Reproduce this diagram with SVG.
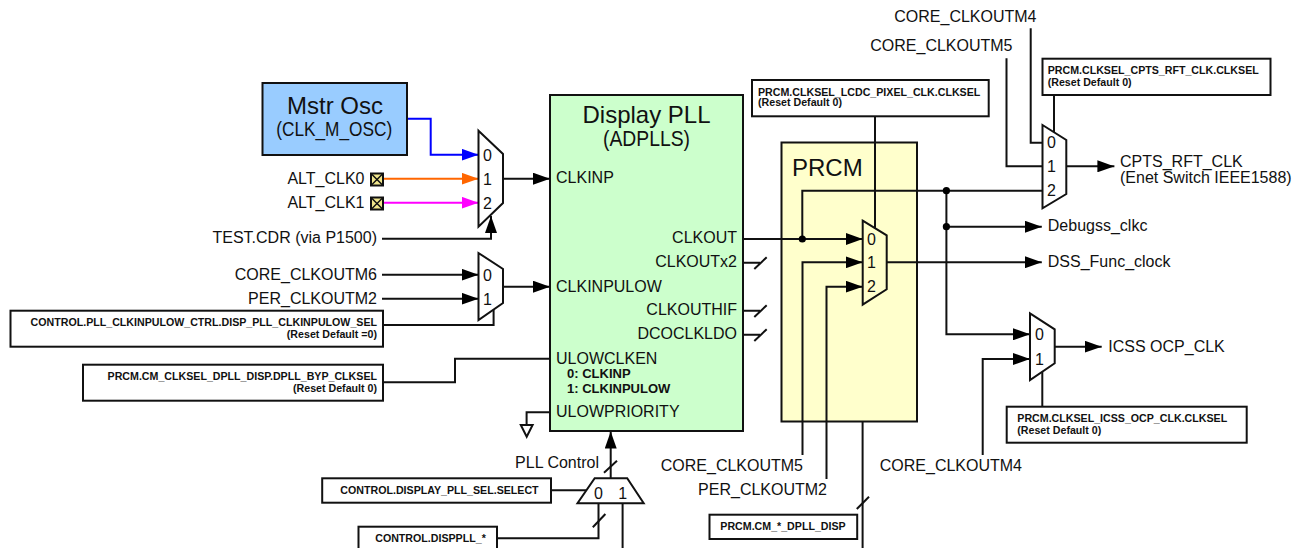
<svg xmlns="http://www.w3.org/2000/svg" width="1298" height="548" viewBox="0 0 1298 548">
<style>
text{font-family:"Liberation Sans",Arial,sans-serif;font-size:16px;fill:#111}
.r{text-anchor:end}
.m{text-anchor:middle}
.b{font-weight:bold;font-size:10.65px}
.b13{font-weight:bold;font-size:13px}
.box{fill:#fff;stroke:#111;stroke-width:2}
.mux{fill:#fff;stroke:#111;stroke-width:2;stroke-linejoin:miter}
.w{fill:none;stroke:#111;stroke-width:2}
.a{marker-end:url(#ar)}
</style>
<defs>
<marker id="ar" markerUnits="userSpaceOnUse" markerWidth="17" markerHeight="12" refX="17" refY="6" orient="auto"><path d="M0 0L17 6L0 12z" fill="#000"/></marker>
<marker id="ab" markerUnits="userSpaceOnUse" markerWidth="17" markerHeight="12" refX="17" refY="6" orient="auto"><path d="M0 0L17 6L0 12z" fill="#0000ff"/></marker>
<marker id="ao" markerUnits="userSpaceOnUse" markerWidth="17" markerHeight="12" refX="17" refY="6" orient="auto"><path d="M0 0L17 6L0 12z" fill="#ff6600"/></marker>
<marker id="am" markerUnits="userSpaceOnUse" markerWidth="17" markerHeight="12" refX="17" refY="6" orient="auto"><path d="M0 0L17 6L0 12z" fill="#ff00ff"/></marker>
</defs>

<g id="prcm"><rect x="781.5" y="142.5" width="135.5" height="279" fill="#ffffcc" stroke="#111" stroke-width="2"/><text x="792" y="176" style="font-size:24px">PRCM</text></g>

<g id="display-pll">
<rect x="550" y="95" width="193" height="336" fill="#ccffcc" stroke="#111" stroke-width="2"/>
<text x="646.5" y="122.5" class="m" style="font-size:24px">Display PLL</text>
<text x="646.5" y="146" class="m" style="font-size:21.5px" textLength="87" lengthAdjust="spacingAndGlyphs">(ADPLLS)</text>
<text x="556" y="183">CLKINP</text>
<text x="556" y="291.5">CLKINPULOW</text>
<text x="556" y="363.5">ULOWCLKEN</text>
<text x="567" y="378" class="b13">0: CLKINP</text>
<text x="567" y="392.5" class="b13">1: CLKINPULOW</text>
<text x="556" y="417">ULOWPRIORITY</text>
<text x="737" y="243" class="r">CLKOUT</text>
<text x="737" y="267" class="r">CLKOUTx2</text>
<text x="737" y="315" class="r">CLKOUTHIF</text>
<text x="737" y="339" class="r">DCOCLKLDO</text>
</g>

<g id="connectors">
<path d="M407 118.7H430.7V154.7H478.5" fill="none" stroke="#0000ff" stroke-width="2" marker-end="url(#ab)"/>
<path d="M383 178.7H478.5" fill="none" stroke="#ff6600" stroke-width="2" marker-end="url(#ao)"/>
<path d="M383 202.7H478.5" fill="none" stroke="#ff00ff" stroke-width="2" marker-end="url(#am)"/>
<path class="w a" d="M382 238.7H491V216"/>
<path class="w a" d="M382 274.7H478.5"/>
<path class="w a" d="M382 298.7H478.5"/>
<path class="w" d="M383 325H493.6V308"/>
<path class="w a" d="M503 178.7H550"/>
<path class="w a" d="M503 286.7H550"/>
<path class="w" d="M383 382.3H455V358.7H550"/>
<path class="w" d="M550 412.3H526.6V425"/>
<path d="M520.8 425H532.6L526.7 436.7z" fill="#fff" stroke="#111" stroke-width="2"/>
<path class="w a" d="M610.7 478.3V431.5"/>
<path class="w" d="M604 472.7L617 460.7"/>
<path class="w" d="M551 490.3H587"/>
<path class="w" d="M598.5 503.3V538.3H497"/>
<path class="w" d="M592.8 527.3L605.4 514"/>
<path class="w" d="M622.6 503.3V548"/>
<path class="w" d="M743 262.7H760M754.3 269L766.7 257.3"/>
<path class="w" d="M743 310.7H760M754.3 317L766.7 305.3"/>
<path class="w" d="M743 334.7H760M754.3 341L766.7 329.3"/>
<path class="w a" d="M743 239H862.7"/>
<path class="w" d="M802.3 239V190.7H1042.5"/>
<path class="w a" d="M802.5 455V262.3H862.7"/>
<path class="w a" d="M826.5 479V286.7H862.7"/>
<path class="w" d="M875 116.3V228"/>
<path class="w a" d="M886.7 262.3H1041.8"/>
<path class="w a" d="M946.4 226.7H1041.8"/>
<path class="w a" d="M946.4 190.7V334.3H1030"/>
<path class="w a" d="M982.7 455V359H1030"/>
<path class="w a" d="M1054.7 346.7H1101.7"/>
<path class="w" d="M1042.3 372V406.7"/>
<path class="w" d="M1030.7 28.3V142.7H1042.5"/>
<path class="w" d="M1006.5 58.3V166.3H1042.5"/>
<path class="w" d="M1054 95V132"/>
<path class="w a" d="M1066.3 166.3H1114.4"/>
<path class="w" d="M862.6 421.7V548"/>
<path class="w" d="M856.8 509L869 496.7"/>
<circle cx="802.3" cy="239" r="3.6" fill="#000"/>
<circle cx="946.4" cy="190.7" r="3.6" fill="#000"/>
<circle cx="946.4" cy="226.7" r="3.6" fill="#000"/>
</g>

<g id="mstr-osc"><rect x="262.5" y="83" width="144.5" height="72" fill="#99ccff" stroke="#111" stroke-width="2"/><text x="335" y="114" class="m" style="font-size:24px">Mstr Osc</text><text x="334.2" y="136" class="m" style="font-size:20.5px" textLength="116" lengthAdjust="spacingAndGlyphs">(CLK_M_OSC)</text></g>

<g id="alt-clk0"><text x="364.5" y="183.5" class="r">ALT_CLK0</text><rect x="371" y="173.5" width="12" height="12" fill="#f0e68c" stroke="#111" stroke-width="2"/><path d="M371 173.5L383 185.5M383 173.5L371 185.5" stroke="#111" stroke-width="1.5"/></g>
<g id="alt-clk1"><text x="364.5" y="207.5" class="r">ALT_CLK1</text><rect x="371" y="197.5" width="12" height="12" fill="#f0e68c" stroke="#111" stroke-width="2"/><path d="M371 197.5L383 209.5M383 197.5L371 209.5" stroke="#111" stroke-width="1.5"/></g>
<g id="test-cdr"><text x="377" y="243" class="r">TEST.CDR (via P1500)</text></g>
<g id="core-clkoutm6"><text x="377" y="279.5" class="r">CORE_CLKOUTM6</text></g>
<g id="per-clkoutm2"><text x="377" y="303.5" class="r">PER_CLKOUTM2</text></g>

<g id="mux-clkinp"><path class="mux" d="M478.5 130.7L503 154V203L478.5 226.7z"/><text x="483" y="160.5">0</text><text x="483" y="184.5">1</text><text x="483" y="208.5">2</text></g>
<g id="mux-clkinpulow"><path class="mux" d="M478.5 253L503 269V303L478.5 320z"/><text x="483" y="280.5">0</text><text x="483" y="304.5">1</text></g>

<g id="ctrl-clkinpulow"><rect class="box" x="10.5" y="310.7" width="372.5" height="36"/><text x="377" y="326" class="r b">CONTROL.PLL_CLKINPULOW_CTRL.DISP_PLL_CLKINPULOW_SEL</text><text x="377" y="338" class="r b">(Reset Default =0)</text></g>
<g id="ctrl-byp"><rect class="box" x="83" y="364.7" width="300" height="36"/><text x="377" y="379.5" class="r b">PRCM.CM_CLKSEL_DPLL_DISP.DPLL_BYP_CLKSEL</text><text x="377" y="391.5" class="r b">(Reset Default 0)</text></g>

<g id="pll-control"><text x="599" y="468" class="r">PLL Control</text></g>
<g id="mux-control"><path class="mux" d="M594.7 478.3H627.2L643.7 503.3H577.5z"/><text x="598.5" y="499" class="m">0</text><text x="622.6" y="499" class="m">1</text></g>
<g id="ctrl-sel"><rect class="box" x="322.2" y="478.3" width="228.8" height="24.4"/><text x="439.5" y="494" class="m b">CONTROL.DISPLAY_PLL_SEL.SELECT</text></g>
<g id="ctrl-disppll"><rect class="box" x="358.5" y="526.7" width="138.5" height="30"/><text x="430.5" y="541.5" class="m b">CONTROL.DISPPLL_*</text></g>
<g id="prcm-dpll"><rect class="box" x="709.5" y="514.7" width="147.7" height="24.3"/><text x="783" y="530" class="m b">PRCM.CM_*_DPLL_DISP</text></g>

<g id="lbl-core-m5-b"><text x="803" y="471" class="r">CORE_CLKOUTM5</text></g>
<g id="lbl-per-m2-b"><text x="827" y="495" class="r">PER_CLKOUTM2</text></g>
<g id="lbl-core-m4-b"><text x="1022" y="471" class="r">CORE_CLKOUTM4</text></g>
<g id="lbl-core-m4-t"><text x="1036.5" y="22" class="r">CORE_CLKOUTM4</text></g>
<g id="lbl-core-m5-t"><text x="1012.5" y="51" class="r">CORE_CLKOUTM5</text></g>

<g id="sel-lcdc"><rect class="box" x="752" y="80" width="236.7" height="36.3"/><text x="758" y="96" class="b">PRCM.CLKSEL_LCDC_PIXEL_CLK.CLKSEL</text><text x="758" y="106" class="b">(Reset Default 0)</text></g>
<g id="sel-cpts"><rect class="box" x="1042.5" y="58.7" width="228" height="36.3"/><text x="1047.7" y="74" class="b">PRCM.CLKSEL_CPTS_RFT_CLK.CLKSEL</text><text x="1047.7" y="86" class="b">(Reset Default 0)</text></g>
<g id="sel-icss"><rect class="box" x="1006.7" y="406.7" width="240" height="36"/><text x="1017.3" y="421.5" class="b">PRCM.CLKSEL_ICSS_OCP_CLK.CLKSEL</text><text x="1017.3" y="434" class="b">(Reset Default 0)</text></g>

<g id="mux-dss"><path d="M862.7 220.7L886.7 235.3V289.3L862.7 304.7z" fill="#ffffcc" stroke="#111" stroke-width="2"/><text x="867" y="244.5">0</text><text x="867" y="268">1</text><text x="867" y="292">2</text></g>
<g id="mux-cpts"><path class="mux" d="M1042.5 125L1066.3 140V194L1042.5 208.3z"/><text x="1047" y="148">0</text><text x="1047" y="172">1</text><text x="1047" y="196">2</text></g>
<g id="mux-icss"><path class="mux" d="M1030 313.3L1054.7 329.3V363.3L1030 380z"/><text x="1035" y="340">0</text><text x="1035" y="364.5">1</text></g>

<g id="out-cpts"><text x="1120" y="167">CPTS_RFT_CLK</text><text x="1120" y="183">(Enet Switch IEEE1588)</text></g>
<g id="out-debug"><text x="1047.8" y="231">Debugss_clkc</text></g>
<g id="out-dss"><text x="1047.8" y="267">DSS_Func_clock</text></g>
<g id="out-icss"><text x="1108.3" y="351.5">ICSS OCP_CLK</text></g>
</svg>
